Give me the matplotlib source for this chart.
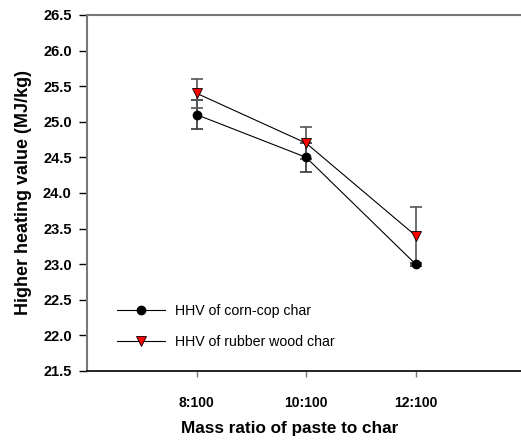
import matplotlib.pyplot as plt

plt.rcParams['font.family'] = ['Liberation Sans', 'DejaVu Sans']

ratios = ['8:100', '10:100', '12:100']
corn_hhv = [25.1, 24.5, 23.0]
corn_err = [0.2, 0.2, 0.02]
rubber_hhv = [25.4, 24.7, 23.4]
rubber_err = [0.2, 0.23, 0.4]

if __name__ == '__main__':
    fig = plt.figure(figsize=(5.21, 4.4), dpi=100)
    ax = fig.add_axes([0.167, 0.157, 0.841, 0.809])
    x = [1, 2, 3]

    # error bars first, points and lines on top
    ax.errorbar(x, corn_hhv, yerr=corn_err, fmt='none', ecolor='#333333',
                elinewidth=1.2, capsize=4, capthick=1.2, zorder=1)
    ax.errorbar(x, rubber_hhv, yerr=rubber_err, fmt='none', ecolor='#555555',
                elinewidth=1.2, capsize=4, capthick=1.2, zorder=1)
    ax.plot(x, corn_hhv, color='black', lw=0.8, marker='o', markersize=6,
            mfc='black', mec='black', label='HHV of corn-cop char', zorder=3)
    ax.plot(x, rubber_hhv, color='black', lw=0.8, marker='v', markersize=6.5,
            mfc='red', mec='black', mew=0.6, label='HHV of rubber wood char', zorder=3)

    ax.set_xlim(0, 4)
    ax.set_ylim(21.5, 26.5)
    ax.set_xticks(x)
    ax.set_xticklabels(ratios, fontsize=10, fontweight='bold')
    ax.set_yticks([21.5 + 0.5 * i for i in range(11)])
    ax.set_yticklabels(['%.1f' % (21.5 + 0.5 * i) for i in range(11)],
                       fontsize=10.5, fontweight='bold')
    ax.tick_params(axis='x', direction='out', length=4, width=1, color='#777777', pad=14)
    ax.tick_params(axis='y', direction='out', length=6, width=1, pad=5)

    ax.spines['right'].set_visible(False)
    ax.spines['top'].set_color('#777777')
    ax.spines['top'].set_linewidth(1.5)
    ax.spines['left'].set_color('#777777')
    ax.spines['left'].set_linewidth(1.5)
    ax.spines['bottom'].set_linewidth(1.2)

    ax.set_xlabel('Mass ratio of paste to char', fontsize=12.3, fontweight='bold')
    ax.xaxis.set_label_coords(0.463, -0.14)
    ax.set_ylabel('Higher heating value (MJ/kg)', fontsize=13, fontweight='bold', labelpad=8)

    ax.legend(loc='lower left', bbox_to_anchor=(0.04, 0.025), frameon=False, fontsize=10.2,
              handlelength=3.4, handletextpad=0.7, labelspacing=1.2)

    plt.savefig('out.png', dpi=100)
